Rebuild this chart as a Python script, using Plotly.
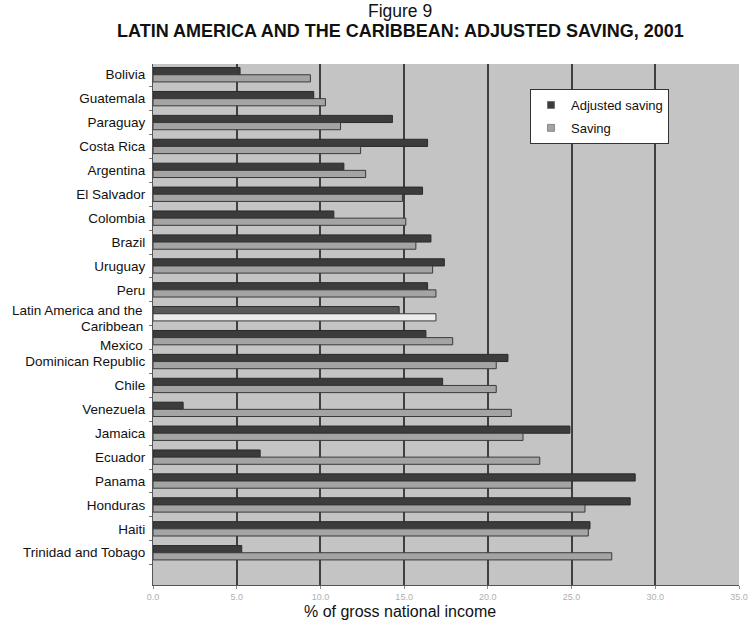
import plotly.graph_objects as go

countries = [
    "Bolivia", "Guatemala", "Paraguay", "Costa Rica", "Argentina", "El Salvador",
    "Colombia", "Brazil", "Uruguay", "Peru", "Latin America and the Caribbean",
    "Mexico", "Dominican Republic", "Chile", "Venezuela", "Jamaica", "Ecuador",
    "Panama", "Honduras", "Haiti", "Trinidad and Tobago",
]
adjusted_saving = [5.2, 9.6, 14.3, 16.4, 11.4, 16.1, 10.8, 16.6, 17.4, 16.4, 14.7,
                   16.3, 21.2, 17.3, 1.8, 24.9, 6.4, 28.8, 28.5, 26.1, 5.3]
saving = [9.4, 10.3, 11.2, 12.4, 12.7, 14.9, 15.1, 15.7, 16.7, 16.9, 16.9,
          17.9, 20.5, 20.5, 21.4, 22.1, 23.1, 25.0, 25.8, 26.0, 27.4]
x_ticks = [0, 5, 10, 15, 20, 25, 30, 35]
x_tick_text = ["0.0", "5.0", "10.0", "15.0", "20.0", "25.0", "30.0", "35.0"]

FONT = "Liberation Sans, Arial, sans-serif"
REGION = "Latin America and the Caribbean"
DARK, LIGHT = "#3c3c3c", "#a4a4a4"
LABEL_SIZE = 13.5

dark_colors = ["#585858" if c == REGION else DARK for c in countries]
light_colors = ["#ececec" if c == REGION else LIGHT for c in countries]
# the regional label wraps onto two lines and nudges "Mexico" down;
# those two are written as free text below
hand_placed = {REGION, "Mexico"}
tick_text = ["" if c in hand_placed else c for c in countries]

fig = go.Figure()
fig.add_trace(go.Bar(
    y=countries, x=adjusted_saving, orientation="h", name="Adjusted saving",
    marker=dict(color=dark_colors, line=dict(color="#2a2a2a", width=1)),
    showlegend=False,
))
fig.add_trace(go.Bar(
    y=countries, x=saving, orientation="h", name="Saving",
    marker=dict(color=light_colors, line=dict(color="#3a3a3a", width=1)),
    showlegend=False,
))
# small square legend keys
for name, col, grp in [("Adjusted saving", DARK, "a"), ("Saving", LIGHT, "b")]:
    fig.add_trace(go.Scatter(
        x=[None], y=[None], mode="markers", name=name, legendgroup=grp,
        marker=dict(symbol="square", size=7, color=col,
                    line=dict(color="#444444", width=0.5)),
        showlegend=True,
    ))

plot_l, plot_r, plot_t, plot_b = 153, 739, 64, 585
def px_to_paper_x(px):
    return (px - plot_l) / (plot_r - plot_l)
def px_to_paper_y(py):
    return (plot_b - py) / (plot_b - plot_t)

def side_label(text, py):
    return dict(text=text, x=px_to_paper_x(145), y=px_to_paper_y(py),
                xref="paper", yref="paper", showarrow=False,
                font=dict(size=LABEL_SIZE, family=FONT, color="#111111"),
                xanchor="right", yanchor="middle")

fig.update_layout(
    width=750, height=625,
    margin=dict(l=plot_l, r=750 - plot_r, t=plot_t, b=625 - plot_b),
    paper_bgcolor="white",
    plot_bgcolor="#c4c4c4",
    barmode="group", bargap=0.40, bargroupgap=0,
    font=dict(family=FONT, color="#111111", size=12),
    showlegend=True,
    legend=dict(
        x=px_to_paper_x(530), y=px_to_paper_y(89), xanchor="left", yanchor="top",
        bgcolor="white", bordercolor="#333333", borderwidth=1,
        font=dict(size=13, family=FONT, color="#111111"),
        traceorder="grouped", tracegroupgap=3, itemwidth=30,
    ),
    xaxis=dict(
        range=[0, 35], tickvals=x_ticks, ticktext=x_tick_text,
        tickfont=dict(size=9, color="#b0b0b0"),
        showgrid=True, gridcolor="#404040", gridwidth=1.5,
        zeroline=False, showline=True, linecolor="#555555", linewidth=1,
        ticks="outside", ticklen=3, tickcolor="#888888",
        automargin=False,
    ),
    yaxis=dict(
        range=[21.35, -0.45], showgrid=False, zeroline=False,
        tickmode="array", tickvals=countries, ticktext=tick_text,
        showline=True, linecolor="#555555", linewidth=1,
        ticks="outside", ticklen=3, tickcolor="#777777", tickson="boundaries",
        tickfont=dict(size=LABEL_SIZE, family=FONT, color="#111111"),
        ticklabelstandoff=4,
        automargin=False,
    ),
    annotations=[
        dict(text="Figure 9", x=px_to_paper_x(400), y=px_to_paper_y(11),
             xref="paper", yref="paper", showarrow=False,
             font=dict(size=17.5, family=FONT, color="#111111"),
             xanchor="center", yanchor="middle"),
        dict(text="<b>LATIN AMERICA AND THE CARIBBEAN: ADJUSTED SAVING, 2001</b>",
             x=px_to_paper_x(400), y=px_to_paper_y(31),
             xref="paper", yref="paper", showarrow=False,
             font=dict(size=18, family=FONT, color="#111111"),
             xanchor="center", yanchor="middle"),
        dict(text="% of gross national income", x=px_to_paper_x(400),
             y=px_to_paper_y(611), xref="paper", yref="paper", showarrow=False,
             font=dict(size=16, family=FONT, color="#111111"),
             xanchor="center", yanchor="middle"),
        side_label("Latin America and the", 310),
        side_label("Caribbean", 326.5),
        side_label("Mexico", 345),
    ],
)

fig.write_html("out.html")
